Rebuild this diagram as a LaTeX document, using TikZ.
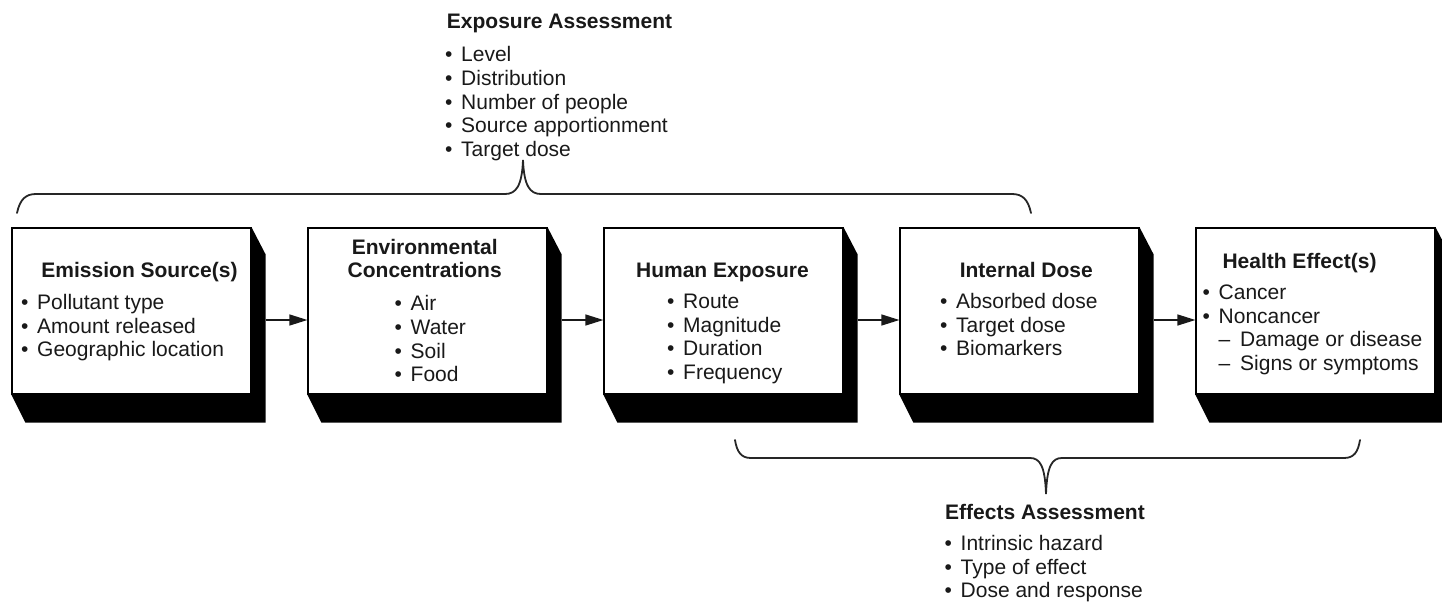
\documentclass[tikz,border=0pt]{standalone}
\usepackage{fontspec}
\setmainfont{Liberation Sans}
\usetikzlibrary{positioning,arrows.meta,calc}

\newcommand{\bul}{\makebox[16pt][l]{\textbullet}}
\newcommand{\dsh}{\hspace*{16pt}\makebox[21.5pt][l]{–}}
\newcommand{\itemlist}[1]{\begin{tabular}[t]{@{}l@{}}#1\end{tabular}}

\begin{document}
\begin{tikzpicture}[
  x=1pt, y=-1pt,
  >={Triangle[length=18pt,width=11pt]},
  stage/.style={
    draw=black, line width=1.2pt, fill=white, inner sep=0pt,
    minimum width=239pt, minimum height=166pt
  },
  ttl/.style={font=\fontsize{21}{23.7}\selectfont\bfseries, text=black!90, anchor=base, inner sep=0pt},
  lst/.style={font=\fontsize{21}{23.7}\selectfont, text=black!90, anchor=base west, inner sep=0pt},
  arr/.style={->, line width=1.3pt, draw=black!90},
  brc/.style={line width=1.8pt, draw=black!85, line cap=round}
]

\useasboundingbox (0,0) rectangle (1442,602);

% --- Etapes alignees horizontalement
\node[stage] (emis)  at (131.5,311)  {};
\node[stage] (envc)  at (427.5,311)  {};
\node[stage] (hexp)  at (723.5,311)  {};
\node[stage] (idose) at (1019.5,311) {};
\node[stage] (heff)  at (1315.5,311) {};

% --- ombres en relief
\foreach \b in {emis,envc,hexp,idose,heff}
  \fill[black] (\b.north east) -- ++(14,27) -- ($(\b.south east)+(14,28)$)
               -- ($(\b.south west)+(14,28)$) -- (\b.south west)
               -- (\b.south east) -- cycle;

% --- Emission Source(s)
\node[ttl] (emisT) at (139.5,277) {Emission Source(s)};
\node[lst] (emisL) at (21,309.3)
  {\itemlist{\bul Pollutant type\\ \bul Amount released\\ \bul Geographic location}};

% --- Environmental Concentrations
\node[ttl] (envcT) at (424.7,254)
  {\begin{tabular}[t]{@{}c@{}}Environmental\\ Concentrations\end{tabular}};
\node[lst] (envcL) at (394.5,310.7)
  {\itemlist{\bul Air\\ \bul Water\\ \bul Soil\\ \bul Food}};

% --- Human Exposure
\node[ttl] (hexpT) at (722.5,277) {Human Exposure};
\node[lst] (hexpL) at (667,308.3)
  {\itemlist{\bul Route\\ \bul Magnitude\\ \bul Duration\\ \bul Frequency}};

% --- Internal Dose
\node[ttl] (idoseT) at (1026.3,277) {Internal Dose};
\node[lst] (idoseL) at (940,308.3)
  {\itemlist{\bul Absorbed dose\\ \bul Target dose\\ \bul Biomarkers}};

% --- Health Effect(s)
\node[ttl] (heffT) at (1299.5,268.3) {Health Effect(s)};
\node[lst] (heffL) at (1202.5,299.3)
  {\itemlist{\bul Cancer\\ \bul Noncancer\\ \dsh Damage or disease\\ \dsh Signs or symptoms}};

% --- fleches entre etapes
\draw[arr] ($(emis.east)+(14,9)$)  -- ($(envc.west)+(0,9)$);
\draw[arr] ($(envc.east)+(14,9)$)  -- ($(hexp.west)+(0,9)$);
\draw[arr] ($(hexp.east)+(14,9)$)  -- ($(idose.west)+(0,9)$);
\draw[arr] ($(idose.east)+(14,9)$) -- ($(heff.west)+(0,9)$);

% --- Exposure Assessment (accolade du haut)
\coordinate (expTip) at (523,160);
\draw[brc] (17,213) .. controls (20,199) and (26,194) .. (36,194) -- (505,194)
  .. controls (516,194) and (522,186) .. (expTip)
  .. controls (524,186) and (530,194) .. (541,194) -- (1012,194)
  .. controls (1022,194) and (1028,199) .. (1031,213);
\node[ttl, anchor=base west] (expT) at (446.7,28.5) {Exposure Assessment};
\node[lst] (expL) at (445,61.7)
  {\itemlist{\bul Level\\ \bul Distribution\\ \bul Number of people\\ \bul Source apportionment\\ \bul Target dose}};

% --- Effects Assessment (accolade du bas)
\coordinate (effTip) at (1046,494);
\draw[brc] (735,440) .. controls (737,452) and (741,458) .. (751,458) -- (1030,458)
  .. controls (1040,458) and (1045,466) .. (effTip)
  .. controls (1047,466) and (1052,458) .. (1062,458) -- (1344,458)
  .. controls (1354,458) and (1358,452) .. (1360,440);
\node[ttl, anchor=base west] (effT) at (945,519) {Effects Assessment};
\node[lst] (effL) at (944.5,550.5)
  {\itemlist{\bul Intrinsic hazard\\ \bul Type of effect\\ \bul Dose and response}};

\end{tikzpicture}
\end{document}
